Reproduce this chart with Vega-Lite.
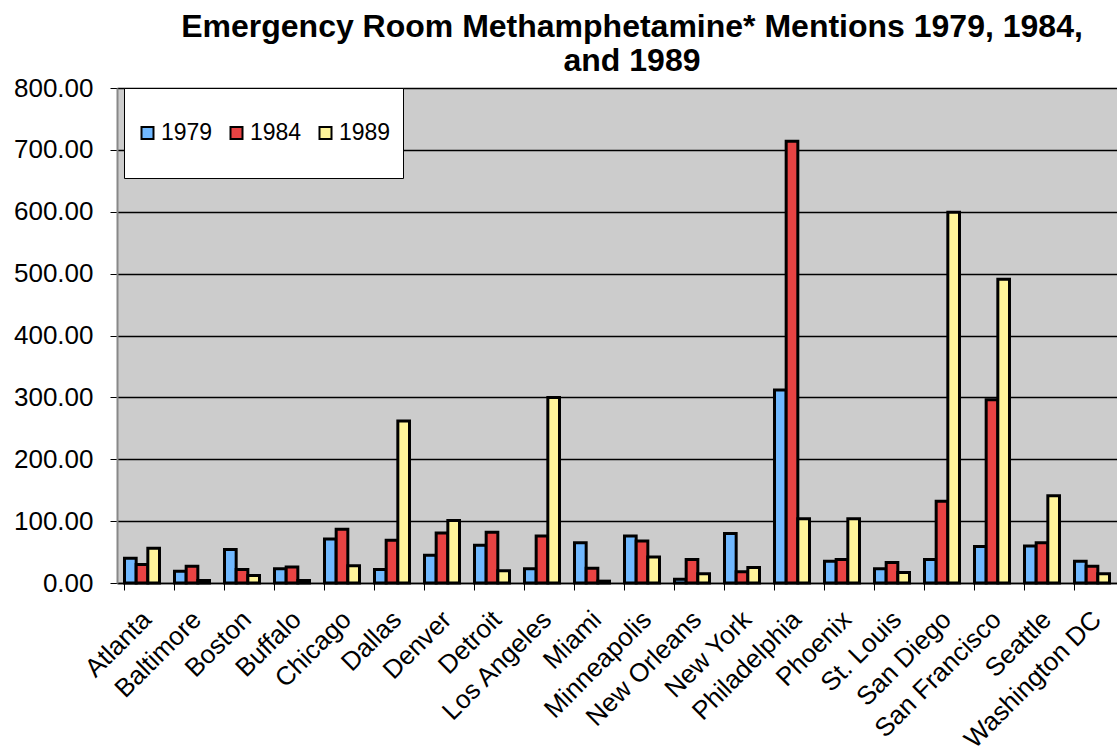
{
  "$schema": "https://vega.github.io/schema/vega-lite/v6.json",
  "autosize": {"type": "none"},
  "padding": {"left": 117, "top": 88, "right": 0, "bottom": 172},
  "width": 1000,
  "height": 495,
  "background": "white",
  "title": {
    "text": ["Emergency Room Methamphetamine* Mentions 1979, 1984,", "and 1989"],
    "font": "Liberation Sans",
    "fontSize": 32,
    "fontWeight": "bold",
    "color": "black",
    "anchor": "middle",
    "dx": 15,
    "lineHeight": 34,
    "offset": -3
  },
  "config": {
    "view": {"fill": "#CCCCCC", "stroke": null},
    "font": "Liberation Sans"
  },
  "data": {
    "values": [
      {"city": "Atlanta", "year": "1979", "mentions": 40},
      {"city": "Atlanta", "year": "1984", "mentions": 30},
      {"city": "Atlanta", "year": "1989", "mentions": 56},
      {"city": "Baltimore", "year": "1979", "mentions": 19},
      {"city": "Baltimore", "year": "1984", "mentions": 27},
      {"city": "Baltimore", "year": "1989", "mentions": 4},
      {"city": "Boston", "year": "1979", "mentions": 54},
      {"city": "Boston", "year": "1984", "mentions": 22},
      {"city": "Boston", "year": "1989", "mentions": 12},
      {"city": "Buffalo", "year": "1979", "mentions": 23},
      {"city": "Buffalo", "year": "1984", "mentions": 26},
      {"city": "Buffalo", "year": "1989", "mentions": 4},
      {"city": "Chicago", "year": "1979", "mentions": 71},
      {"city": "Chicago", "year": "1984", "mentions": 87},
      {"city": "Chicago", "year": "1989", "mentions": 28},
      {"city": "Dallas", "year": "1979", "mentions": 22},
      {"city": "Dallas", "year": "1984", "mentions": 69},
      {"city": "Dallas", "year": "1989", "mentions": 262},
      {"city": "Denver", "year": "1979", "mentions": 45},
      {"city": "Denver", "year": "1984", "mentions": 81},
      {"city": "Denver", "year": "1989", "mentions": 101},
      {"city": "Detroit", "year": "1979", "mentions": 61},
      {"city": "Detroit", "year": "1984", "mentions": 82},
      {"city": "Detroit", "year": "1989", "mentions": 20},
      {"city": "Los Angeles", "year": "1979", "mentions": 23},
      {"city": "Los Angeles", "year": "1984", "mentions": 76},
      {"city": "Los Angeles", "year": "1989", "mentions": 300},
      {"city": "Miami", "year": "1979", "mentions": 65},
      {"city": "Miami", "year": "1984", "mentions": 24},
      {"city": "Miami", "year": "1989", "mentions": 3},
      {"city": "Minneapolis", "year": "1979", "mentions": 76},
      {"city": "Minneapolis", "year": "1984", "mentions": 68},
      {"city": "Minneapolis", "year": "1989", "mentions": 42},
      {"city": "New Orleans", "year": "1979", "mentions": 6},
      {"city": "New Orleans", "year": "1984", "mentions": 38},
      {"city": "New Orleans", "year": "1989", "mentions": 15},
      {"city": "New York", "year": "1979", "mentions": 80},
      {"city": "New York", "year": "1984", "mentions": 18},
      {"city": "New York", "year": "1989", "mentions": 25},
      {"city": "Philadelphia", "year": "1979", "mentions": 312},
      {"city": "Philadelphia", "year": "1984", "mentions": 714},
      {"city": "Philadelphia", "year": "1989", "mentions": 104},
      {"city": "Phoenix", "year": "1979", "mentions": 35},
      {"city": "Phoenix", "year": "1984", "mentions": 38},
      {"city": "Phoenix", "year": "1989", "mentions": 104},
      {"city": "St. Louis", "year": "1979", "mentions": 23},
      {"city": "St. Louis", "year": "1984", "mentions": 33},
      {"city": "St. Louis", "year": "1989", "mentions": 17},
      {"city": "San Diego", "year": "1979", "mentions": 38},
      {"city": "San Diego", "year": "1984", "mentions": 132},
      {"city": "San Diego", "year": "1989", "mentions": 599},
      {"city": "San Francisco", "year": "1979", "mentions": 59},
      {"city": "San Francisco", "year": "1984", "mentions": 296},
      {"city": "San Francisco", "year": "1989", "mentions": 491},
      {"city": "Seattle", "year": "1979", "mentions": 60},
      {"city": "Seattle", "year": "1984", "mentions": 65},
      {"city": "Seattle", "year": "1989", "mentions": 141},
      {"city": "Washington DC", "year": "1979", "mentions": 35},
      {"city": "Washington DC", "year": "1984", "mentions": 27},
      {"city": "Washington DC", "year": "1989", "mentions": 15}
    ]
  },
  "mark": {"type": "bar", "stroke": "black", "strokeWidth": 3, "strokeJoin": "miter"},
  "encoding": {
    "x": {
      "field": "city",
      "type": "nominal",
      "sort": null,
      "scale": {"paddingInner": 0.3, "paddingOuter": 0.15},
      "axis": {
        "title": null,
        "bandPosition": 0,
        "labelAngle": -45,
        "labelFontSize": 26,
        "labelColor": "black",
        "labelPadding": 16,
        "labelOffset": -4,
        "labelLimit": 400,
        "domainColor": "black",
        "domainWidth": 1.5,
        "tickColor": "black",
        "tickSize": 7,
        "tickWidth": 1,
        "grid": false
      }
    },
    "xOffset": {"field": "year", "type": "nominal", "sort": ["1979", "1984", "1989"]},
    "y": {
      "field": "mentions",
      "type": "quantitative",
      "scale": {"domain": [0, 800], "nice": false},
      "axis": {
        "title": null,
        "values": [0, 100, 200, 300, 400, 500, 600, 700, 800],
        "format": ".2f",
        "labelFontSize": 26,
        "labelColor": "black",
        "labelPadding": 17,
        "domainColor": "#888888",
        "domainWidth": 2,
        "tickColor": "black",
        "tickSize": 7,
        "gridColor": "black",
        "gridWidth": 1.3
      }
    },
    "color": {
      "field": "year",
      "type": "nominal",
      "scale": {"domain": ["1979", "1984", "1989"], "range": ["#70B8FF", "#E84343", "#FFF59A"]},
      "legend": {
        "title": null,
        "orient": "none",
        "legendX": 7,
        "legendY": 0,
        "direction": "horizontal",
        "fillColor": "white",
        "strokeColor": "black",
        "padding": 12,
        "clipHeight": 66,
        "symbolType": "square",
        "symbolSize": 144,
        "symbolStrokeColor": "black",
        "symbolStrokeWidth": 2,
        "symbolOpacity": 1,
        "labelFontSize": 23,
        "labelColor": "black",
        "labelOffset": 2,
        "columnPadding": 12
      }
    }
  }
}
